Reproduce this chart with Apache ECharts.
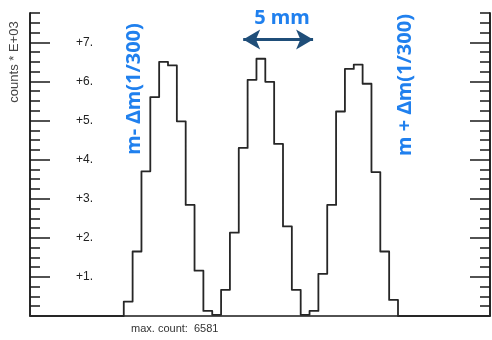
<!DOCTYPE html>
<html>
<head>
<meta charset="utf-8">
<script src="https://cdn.jsdelivr.net/npm/echarts@6/dist/echarts.min.js"></script>
<style>
html,body{margin:0;padding:0;background:#fff;}
#chart{width:492px;height:340px;}
</style>
</head>
<body>
<div id="chart"></div>
<script>
// ---- data (counts in thousands per bin, bins of equal width, index = bin start) ----
const binStart = 0;
const binCounts = [0.37, 1.65, 3.70, 5.60, 6.50, 6.41, 4.98, 2.84, 1.16, 0.13,
                   0.03, 0.67, 2.13, 4.30, 6.04, 6.58, 5.99, 4.40, 2.29, 0.67,
                   0.03, 0.13, 1.08, 2.84, 5.23, 6.32, 6.43, 5.94, 3.68, 1.65, 0.41];
const yTickValues = [1, 2, 3, 4, 5, 6, 7];
const yAxisTitle = 'counts * E+03';
const maxCountLabel = 'max. count:  6581';
const leftPeakLabel = 'm- \u0394m(1/300)';
const rightPeakLabel = 'm + \u0394m(1/300)';
const spacingLabel = '5 mm';
const xMin = -10.6, xMax = 41.4;
const yMin = 0, yMax = 7.75;
// arrow annotation in data coordinates (x in bins, y in thousands)
const arrowFrom = [13.5, 7.07];
const arrowTo = [21.4, 7.07];

// build step-line points from the bins
const pts = [[xMin, 0]];
binCounts.forEach((v, i) => pts.push([binStart + i, v]));
pts.push([binStart + binCounts.length, 0]);
pts.push([xMax, 0]);

const chart = echarts.init(document.getElementById('chart'), null, {renderer: 'canvas'});
const ink = '#1a1a1a';
const blue = '#2080ee';
const navy = '#1f4e79';

function yAx(pos, major) {
  const a = {
    type: 'value', position: pos, min: yMin, max: yMax,
    splitLine: {show: false},
    axisLine: {show: true, onZero: false, lineStyle: {color: ink, width: 1.5}},
  };
  if (major) {
    a.interval = 1;
    a.axisTick = {show: true, inside: true, length: 20, lineStyle: {color: ink, width: 1.5}, customValues: yTickValues};
    if (pos === 'left') {
      a.axisLabel = {show: true, inside: true, margin: 46, align: 'left', customValues: yTickValues,
        color: '#222', fontSize: 12, fontFamily: 'Liberation Sans, Arial, sans-serif',
        formatter: v => '+' + v + '.'};
    } else {
      a.axisLabel = {show: false};
    }
  } else {
    a.interval = 0.25;
    a.axisTick = {show: true, inside: true, length: 10, lineStyle: {color: ink, width: 1.5}};
    a.axisLabel = {show: false};
  }
  return a;
}

chart.setOption({
  animation: false,
  backgroundColor: '#ffffff',
  grid: {left: 30, right: 2, top: 13, bottom: 24, containLabel: false},
  xAxis: {
    type: 'value', min: xMin, max: xMax,
    axisLine: {show: true, onZero: false, lineStyle: {color: ink, width: 1.5}},
    axisTick: {show: false}, axisLabel: {show: false}, splitLine: {show: false}
  },
  yAxis: [yAx('left', false), yAx('left', true), yAx('right', false), yAx('right', true)],
  series: [{
    type: 'line', step: 'end', data: pts, yAxisIndex: 0,
    showSymbol: false, symbol: 'none',
    lineStyle: {color: '#262626', width: 1.8, join: 'round'},
    markLine: {
      silent: true, symbol: ['arrow', 'arrow'], symbolSize: [15, 17],
      label: {show: false},
      lineStyle: {color: navy, width: 3, type: 'solid'},
      data: [[{coord: arrowFrom}, {coord: arrowTo}]]
    }
  }],
  graphic: [
    {type: 'text', x: 14, y: 62, rotation: Math.PI / 2,
     style: {text: yAxisTitle, fill: '#444', font: '13px "Liberation Sans", Arial, sans-serif', align: 'center', verticalAlign: 'middle'}},
    {type: 'text', x: 131, y: 329,
     style: {text: maxCountLabel, fill: '#333', font: '11px "Liberation Sans", Arial, sans-serif', align: 'left', verticalAlign: 'middle'}},
    {type: 'text', x: 134, y: 89, rotation: Math.PI / 2,
     style: {text: leftPeakLabel, fill: blue, font: 'bold 20px "Noto Sans", "Open Sans", sans-serif', align: 'center', verticalAlign: 'middle'}},
    {type: 'text', x: 405, y: 85, rotation: Math.PI / 2,
     style: {text: rightPeakLabel, fill: blue, font: 'bold 20px "Noto Sans", "Open Sans", sans-serif', align: 'center', verticalAlign: 'middle'}},
    {type: 'text', x: 282, y: 18,
     style: {text: spacingLabel, fill: blue, font: 'bold 20px "Noto Sans", "Open Sans", sans-serif', align: 'center', verticalAlign: 'middle'}}
  ]
});
</script>
</body>
</html>
